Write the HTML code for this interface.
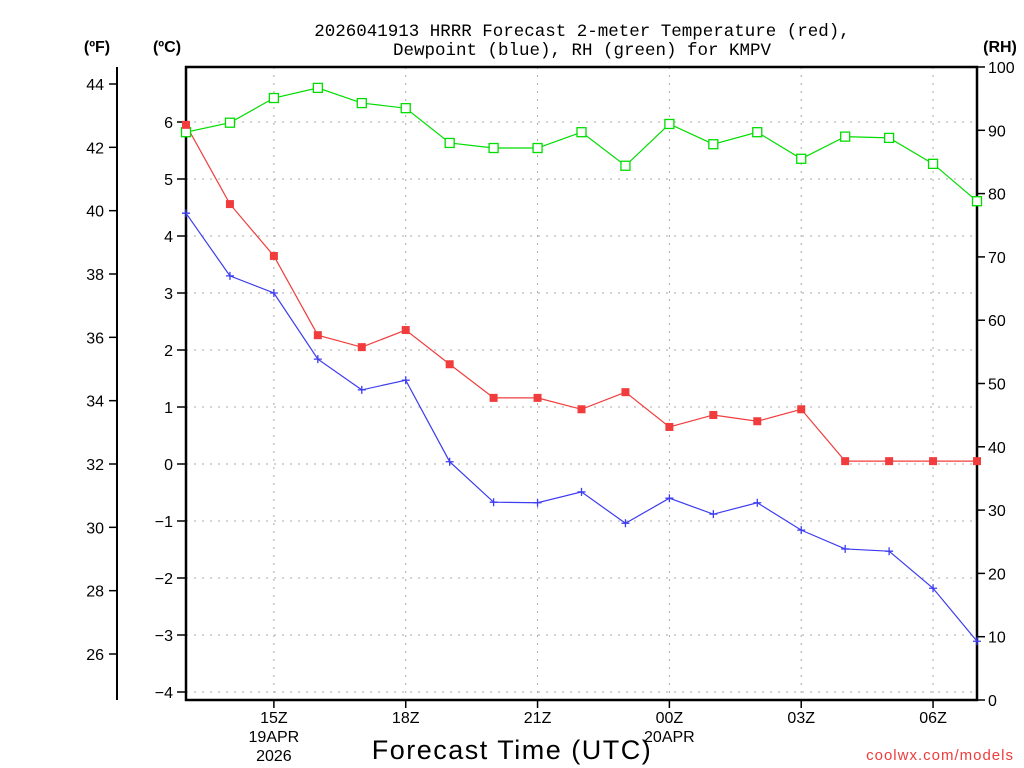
<!DOCTYPE html>
<html><head><meta charset="utf-8"><style>
html,body{margin:0;padding:0;background:#fff;}
svg{display:block;font-family:"Liberation Sans",sans-serif;}
</style></head><body>
<svg id="chart" width="1024" height="768" viewBox="0 0 1024 768">
<text x="582" y="36" text-anchor="middle" font-size="17.5" font-family="Liberation Mono, monospace" fill="#000">2026041913 HRRR Forecast 2-meter Temperature (red),</text>
<text x="582" y="55" text-anchor="middle" font-size="17.5" font-family="Liberation Mono, monospace" fill="#000">Dewpoint (blue), RH (green) for KMPV</text>
<text x="97" y="52" text-anchor="middle" font-size="16" font-weight="bold">(ºF)</text>
<text x="167" y="52" text-anchor="middle" font-size="16" font-weight="bold">(ºC)</text>
<text x="1000" y="52" text-anchor="middle" font-size="16" font-weight="bold">(RH)</text>
<text x="512" y="759" text-anchor="middle" font-size="27" letter-spacing="1.5">Forecast Time (UTC)</text>
<text x="1014" y="760" text-anchor="end" font-size="15" fill="#f03c3c" letter-spacing="1">coolwx.com/models</text>
<g id="grid"></g><g id="axes"></g><g id="series"></g>
</svg>
<script>
const hours = [13,14,15,16,17,18,19,20,21,22,23,24,25,26,27,28,29,30,31];
const tempC = [5.95,4.56,3.65,2.26,2.05,2.35,1.75,1.16,1.16,0.96,1.26,0.65,0.86,0.75,0.96,0.05,0.05,0.05,0.05];
const dewC = [4.40,3.30,3.00,1.84,1.30,1.47,0.04,-0.67,-0.68,-0.49,-1.04,-0.60,-0.88,-0.68,-1.16,-1.49,-1.53,-2.18,-3.11];
const rh = [89.7,91.2,95.1,96.7,94.3,93.5,88.0,87.2,87.2,89.7,84.4,91.0,87.8,89.7,85.5,89.0,88.8,84.7,78.8];
const xTickHours = [15,18,21,24,27,30];
const xTickLabels = ["15Z","18Z","21Z","00Z","03Z","06Z"];
const cTicks = [-4,-3,-2,-1,0,1,2,3,4,5,6];
const fTicks = [26,28,30,32,34,36,38,40,42,44];
const rhTicks = [0,10,20,30,40,50,60,70,80,90,100];

const L=186,R=977,T=67,B=700;
const X = h => L + (h-13)*(R-L)/18;
const YC = c => 464 - c*57;
const YF = f => YC((f-32)*5/9);
const YR = r => B - r*(B-T)/100;
const NS="http://www.w3.org/2000/svg";
function mk(tag, attrs, parent){const e=document.createElementNS(NS,tag);for(const k in attrs)e.setAttribute(k,attrs[k]);parent.appendChild(e);return e;}
const grid=document.getElementById('grid'),axes=document.getElementById('axes'),ser=document.getElementById('series');

cTicks.forEach(c=>{const y=YC(c);
 let g=mk('line',{x1:L,x2:R,y1:y,y2:y,stroke:'#aaa','stroke-dasharray':'2,6'},grid);
 
 
 let t=mk('line',{x1:L-9,x2:L,y1:y,y2:y,stroke:'#000','stroke-width':1.5},axes);
 
 
 let tx=mk('text',{x:L-13,y:y+6,'text-anchor':'end','font-size':16},axes);tx.textContent=(c<0?'\u2212':'')+Math.abs(c);
 
 
});
xTickHours.forEach((h,i)=>{const x=X(h);
 let g=mk('line',{x1:x,x2:x,y1:T,y2:B,stroke:'#aaa','stroke-dasharray':'2,6'},grid);
 
 
 let t=mk('line',{x1:x,x2:x,y1:B,y2:B+8,stroke:'#000','stroke-width':1.5},axes);
 
 
 let tx=mk('text',{x:x,y:B+23,'text-anchor':'middle','font-size':16},axes);tx.textContent=xTickLabels[i];
 
 
});
[["19APR",15,1],["2026",15,2],["20APR",24,1]].forEach(d=>{
 let tx=mk('text',{x:X(d[1]),y:B+23+d[2]*19,'text-anchor':'middle','font-size':16},axes);tx.textContent=d[0];
 
 
});
let fa=mk('line',{x1:117,x2:117,y1:T,y2:B,stroke:'#000','stroke-width':2},axes);


fTicks.forEach(f=>{const y=YF(f);
 let t=mk('line',{x1:109,x2:117,y1:y,y2:y,stroke:'#000','stroke-width':1.5},axes);
 
 
 let tx=mk('text',{x:104,y:y+6,'text-anchor':'end','font-size':16},axes);tx.textContent=f;
 
 
});
rhTicks.forEach(r=>{const y=YR(r);
 let t=mk('line',{x1:R,x2:R+8,y1:y,y2:y,stroke:'#000','stroke-width':1.5},axes);
 
 
 let tx=mk('text',{x:R+11,y:y+6,'font-size':16},axes);tx.textContent=r;
 
 
});
let fr=mk('rect',{x:L,y:T,width:R-L,height:B-T,fill:'none',stroke:'#000','stroke-width':2.5},axes);



function line(vals,yf,color,name){
 const pts=hours.map((h,i)=>X(h)+','+yf(vals[i])).join(' ');
 let p=mk('polyline',{points:pts,fill:'none',stroke:color,'stroke-width':1.2},ser);
 
 
}
line(rh,YR,'#00dd00','rh-line');
line(tempC,YC,'#f03c3c','temperature-line');
line(dewC,YC,'#3c3cf0','dewpoint-line');
hours.forEach((h,i)=>{
 let s=mk('rect',{x:X(h)-4.5,y:YR(rh[i])-4.5,width:9,height:9,fill:'#fff',stroke:'#00dd00','stroke-width':1.3},ser);
 
 
 let r=mk('rect',{x:X(h)-4,y:YC(tempC[i])-4,width:8,height:8,fill:'#f03c3c'},ser);
 
 
 const x=X(h),y=YC(dewC[i]);
 let d=mk('path',{d:`M${x-4},${y}H${x+4}M${x},${y-4}V${y+4}`,stroke:'#3c3cf0','stroke-width':1.3},ser);
 
 
});
</script>
</body></html>
